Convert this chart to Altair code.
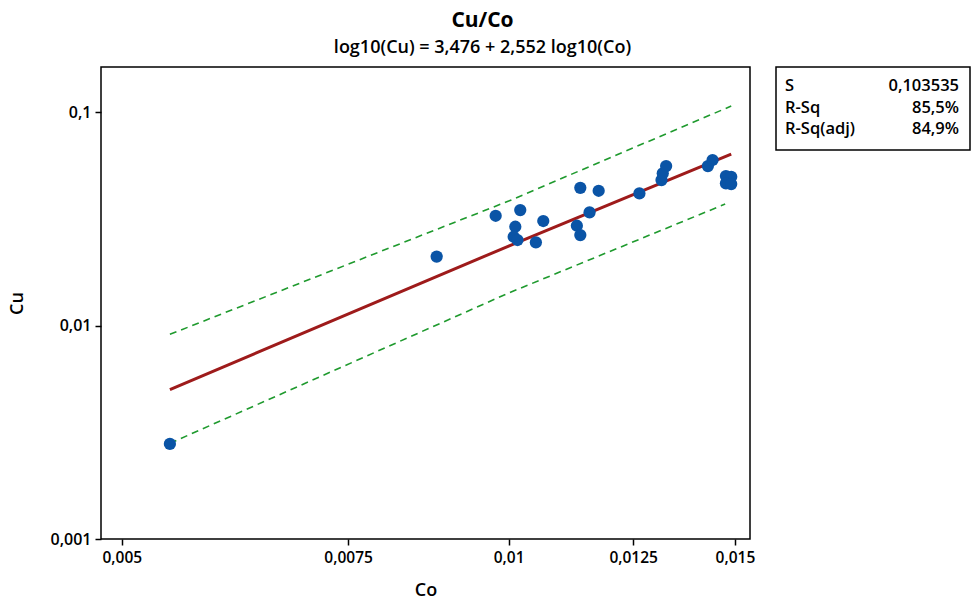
import altair as alt
import pandas as pd

# Data
co = [0.00545, 0.00879, 0.00977, 0.01021, 0.01064, 0.01012, 0.01009, 0.01016,
      0.01050, 0.01137, 0.01175, 0.01156, 0.01130, 0.01137, 0.01264, 0.01315,
      0.01318, 0.01326, 0.01429, 0.01441, 0.01476, 0.01490, 0.01476, 0.01490]
cu = [0.00279, 0.02104, 0.03268, 0.03475, 0.03087, 0.02903, 0.02606, 0.02515,
      0.02453, 0.04418, 0.04279, 0.03390, 0.02934, 0.02654, 0.04160, 0.04803,
      0.05163, 0.05586, 0.05586, 0.05960, 0.05015, 0.04977, 0.04634, 0.04600]

fit_co = [0.00545, 0.01, 0.01490]
fit_cu = [0.005013, 0.02357, 0.06358]

upper_co = [0.00545, 0.01, 0.01490]
upper_cu = [0.009095, 0.03829, 0.1067]

lower_co = [0.00545, 0.01, 0.01474]
lower_cu = [0.002807, 0.01420, 0.03707]

x_ticks = [0.005, 0.0075, 0.01, 0.0125, 0.015]
y_ticks = [0.001, 0.01, 0.1]

stat_names = ["S", "R-Sq", "R-Sq(adj)"]
stat_values = ["0,103535", "85,5%", "84,9%"]

FONT = "Open Sans"

pts = pd.DataFrame({"Co": co, "Cu": cu})
fit = pd.DataFrame({"Co": fit_co, "Cu": fit_cu})
upper = pd.DataFrame({"Co": upper_co, "Cu": upper_cu})
lower = pd.DataFrame({"Co": lower_co, "Cu": lower_cu})

xscale = alt.Scale(type="log", domain=[0.004817, 0.01541], nice=False)
yscale = alt.Scale(type="log", domain=[0.001, 0.1626], nice=False)

xaxis = alt.Axis(values=x_ticks, labelExpr="replace(toString(datum.value), '.', ',')",
                 title="Co", grid=False, domain=False, tickSize=6, tickColor="black",
                 tickWidth=1.5,
                 labelFont=FONT, labelFontSize=15.5, labelFontWeight=600, labelColor="black",
                 titleFont=FONT, titleFontSize=18, titleFontWeight=600, titleColor="black",
                 labelPadding=5, titlePadding=16)
yaxis = alt.Axis(values=y_ticks, labelExpr="replace(toString(datum.value), '.', ',')",
                 title="Cu", grid=False, domain=False, tickSize=6, tickColor="black",
                 tickWidth=1.5,
                 labelFont=FONT, labelFontSize=16, labelFontWeight=600, labelColor="black",
                 titleFont=FONT, titleFontSize=18, titleFontWeight=600, titleColor="black",
                 labelPadding=4, titlePadding=24)

X = alt.X("Co:Q", scale=xscale, axis=xaxis)
Y = alt.Y("Cu:Q", scale=yscale, axis=yaxis)

up_line = alt.Chart(upper).mark_line(color="#1f9a2e", strokeWidth=1.6, strokeDash=[7, 5]).encode(x=X, y=Y)
lo_line = alt.Chart(lower).mark_line(color="#1f9a2e", strokeWidth=1.6, strokeDash=[7, 5]).encode(x=X, y=Y)
fit_line = alt.Chart(fit).mark_line(color="#9e1b1b", strokeWidth=3).encode(x=X, y=Y)
dots = alt.Chart(pts).mark_circle(size=150, color="#0a54a6", opacity=1).encode(x=X, y=Y)

box = alt.Chart(pd.DataFrame({"a": [0]})).mark_rect(
    fill="white", stroke="black", strokeWidth=1.5
).encode(x=alt.value(675), x2=alt.value(869), y=alt.value(0), y2=alt.value(83))

rows = [19, 41, 62]
stat_layers = []
for name, val, yy in zip(stat_names, stat_values, rows):
    stat_layers.append(
        alt.Chart(pd.DataFrame({"t": [name]})).mark_text(
            align="left", baseline="middle", font=FONT, fontSize=16.5, fontWeight=600, color="black"
        ).encode(text="t:N", x=alt.value(684), y=alt.value(yy))
    )
    stat_layers.append(
        alt.Chart(pd.DataFrame({"t": [val]})).mark_text(
            align="right", baseline="middle", font=FONT, fontSize=16.5, fontWeight=600, color="black"
        ).encode(text="t:N", x=alt.value(858), y=alt.value(yy))
    )

chart = alt.layer(up_line, lo_line, fit_line, dots, box, *stat_layers).properties(
    width=649, height=472,
    background="white",
    autosize=alt.AutoSizeParams(type="none"),
    padding={"left": 101, "top": 67, "right": 222, "bottom": 64},
    title=alt.TitleParams(
        text="Cu/Co",
        subtitle="log10(Cu) = 3,476 + 2,552 log10(Co)",
        anchor="middle", dx=57, offset=9,
        font=FONT, fontSize=21, fontWeight="bold", color="black",
        subtitleFont=FONT, subtitleFontSize=18, subtitleFontWeight=600, subtitleColor="black",
        subtitlePadding=8,
    ),
).configure_view(stroke="black", strokeWidth=1.5)

chart.save("out.html", embed_options={"renderer": "svg", "actions": False})
